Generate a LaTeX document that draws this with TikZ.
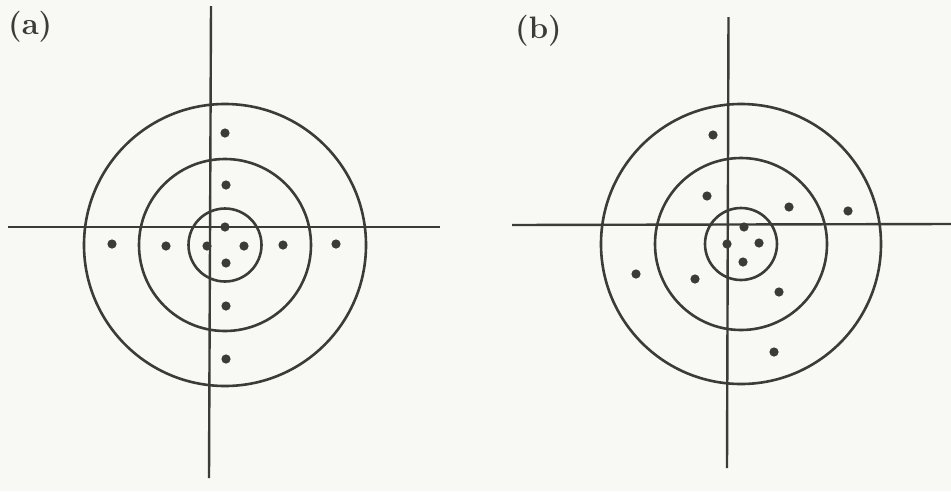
\documentclass[tikz,border=0pt]{standalone}
\begin{document}
\begin{tikzpicture}[x=1pt,y=-1pt,
  ink/.style={draw=inkc,line width=2.4pt},
  ring/.style={draw=inkc,line width=2.6pt},
  dotc/.style={fill=inkc,draw=none},
  lab/.style={anchor=north west,inner sep=0pt,text=inkc,font=\fontsize{31}{34}\selectfont\bfseries}]
\definecolor{inkc}{RGB}{58,60,55}
\definecolor{paper}{RGB}{248,248,244}
\fill[paper] (0,0) rectangle (951,491);
\useasboundingbox (0,0) rectangle (951,491);
% (a)
\node[lab] (la) at (8,11) {(a)};
\coordinate (atop) at (211,6); \coordinate (abot) at (209,478);
\coordinate (alft) at (8,227); \coordinate (argt) at (440,227);
\draw[ink] (atop) -- (abot);
\draw[ink] (alft) -- (argt);
\coordinate (ac) at (225,245);
\draw[ring] (ac) circle[radius=141];
\draw[ring] (ac) circle[radius=86];
\draw[ring] (ac) circle[radius=36.5];
\foreach \p in {(225,133),(226,185),(225,227),(207,246),(244,246),(226,263),(226,306),(226,359),(112,244),(166,246),(283,245),(336,244)}
  \fill[dotc] \p circle[radius=4.6];
% (b)
\node[lab] (lb) at (515,15) {(b)};
\coordinate (btop) at (728.5,17); \coordinate (bbot) at (727,468);
\coordinate (blft) at (512,225); \coordinate (brgt) at (951,224);
\draw[ink] (btop) -- (bbot);
\draw[ink] (blft) -- (brgt);
\coordinate (bc) at (741,244);
\draw[ring] (bc) circle[radius=140];
\draw[ring] (bc) circle[radius=86];
\draw[ring] (bc) circle[radius=36];
\foreach \p in {(713,135),(707,196),(789,207),(848,211),(744,227),(727,244),(759,243),(743,262),(636,274),(695,279),(779,292),(774,352)}
  \fill[dotc] \p circle[radius=4.6];
\end{tikzpicture}
\end{document}
